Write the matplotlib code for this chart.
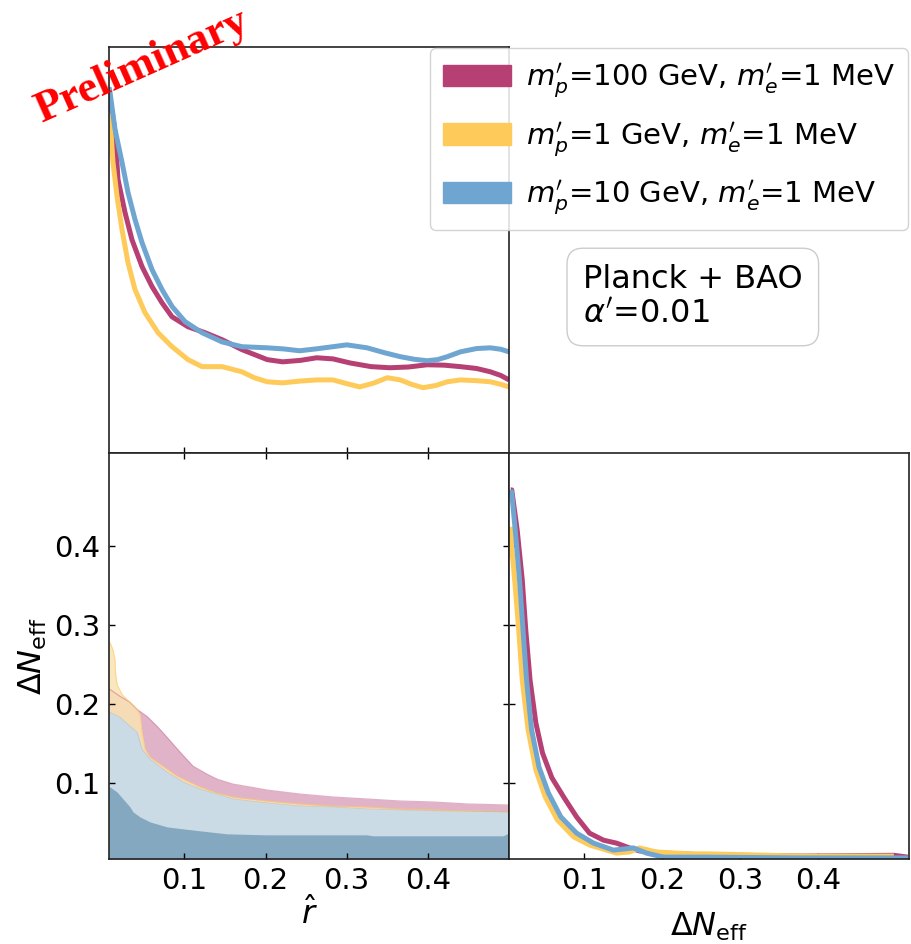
import matplotlib
matplotlib.use('Agg')
import matplotlib.pyplot as plt
from matplotlib.patches import Patch

# ---- data ----
labels = [r"$m^{\prime}_{p}$=100 GeV, $m^{\prime}_{e}$=1 MeV",
          r"$m^{\prime}_{p}$=1 GeV, $m^{\prime}_{e}$=1 MeV",
          r"$m^{\prime}_{p}$=10 GeV, $m^{\prime}_{e}$=1 MeV"]
line_colors = ['#B64073', '#FECB5A', '#6FA6D1']

rhat_lim = (0.007, 0.5)
dneff_lim = (0.004, 0.517)
ticks = [0.1, 0.2, 0.3, 0.4]

# 1D marginal of r-hat (top left)
r_mag_x = [0.007, 0.0144, 0.0181, 0.0267, 0.0353, 0.0477, 0.060, 0.0723, 0.0847, 0.1044,
           0.1253, 0.1463, 0.1709, 0.202, 0.221, 0.243, 0.263, 0.283, 0.304, 0.330,
           0.353, 0.376, 0.399, 0.420, 0.440, 0.460, 0.477, 0.490, 0.500]
r_mag_y = [0.980, 0.870, 0.741, 0.652, 0.578, 0.505, 0.451, 0.407, 0.369, 0.342,
           0.326, 0.307, 0.280, 0.253, 0.247, 0.251, 0.258, 0.255, 0.244, 0.234,
           0.231, 0.233, 0.239, 0.238, 0.234, 0.229, 0.220, 0.210, 0.198]
r_yel_x = [0.007, 0.0082, 0.0119, 0.0169, 0.023, 0.0304, 0.039, 0.0514, 0.0674, 0.0847,
           0.1044, 0.1216, 0.1463, 0.1709, 0.186, 0.202, 0.221, 0.243, 0.263, 0.283,
           0.300, 0.316, 0.334, 0.350, 0.366, 0.380, 0.394, 0.410, 0.424, 0.440,
           0.460, 0.477, 0.490, 0.500]
r_yel_y = [0.918, 0.913, 0.788, 0.695, 0.606, 0.516, 0.443, 0.380, 0.326, 0.288,
           0.253, 0.234, 0.234, 0.220, 0.204, 0.193, 0.190, 0.195, 0.198, 0.198,
           0.188, 0.179, 0.190, 0.204, 0.198, 0.186, 0.177, 0.183, 0.193, 0.198,
           0.196, 0.193, 0.186, 0.179]
r_blu_x = [0.007, 0.0082, 0.0144, 0.023, 0.0304, 0.039, 0.0477, 0.060, 0.0723, 0.0847,
           0.1007, 0.1216, 0.1463, 0.1709, 0.202, 0.222, 0.242, 0.262, 0.283, 0.300,
           0.325, 0.346, 0.366, 0.383, 0.399, 0.412, 0.424, 0.440, 0.460, 0.477,
           0.490, 0.500]
r_blu_y = [0.991, 0.978, 0.877, 0.788, 0.706, 0.633, 0.570, 0.497, 0.443, 0.397,
           0.356, 0.326, 0.301, 0.288, 0.285, 0.282, 0.277, 0.282, 0.288, 0.293,
           0.285, 0.272, 0.261, 0.254, 0.250, 0.253, 0.261, 0.274, 0.283, 0.285,
           0.281, 0.274]

# 1D marginal of Delta N_eff (bottom right)
n_mag_x = [0.0062, 0.0075, 0.0145, 0.0210, 0.0255, 0.0310, 0.0385, 0.0470, 0.0590, 0.0750,
           0.0907, 0.1073, 0.1252, 0.1419, 0.1585, 0.1713, 0.202, 0.257, 0.3786, 0.4976,
           0.5155]
n_mag_y = [1.0, 1.0, 0.891, 0.756, 0.620, 0.485, 0.368, 0.287, 0.220, 0.165,
           0.114, 0.070, 0.051, 0.043, 0.030, 0.022, 0.016, 0.011, 0.008, 0.010,
           0.005]
n_yel_x = [0.0062, 0.0075, 0.0113, 0.0165, 0.0210, 0.0285, 0.0385, 0.0505, 0.0660, 0.0869,
           0.1073, 0.1419, 0.1585, 0.1713, 0.193, 0.2353, 0.257, 0.3786, 0.4976]
n_yel_y = [0.90, 0.845, 0.756, 0.620, 0.485, 0.350, 0.241, 0.168, 0.106, 0.060,
           0.038, 0.016, 0.019, 0.030, 0.019, 0.014, 0.014, 0.008, 0.008]
n_blu_x = [0.0062, 0.0075, 0.0120, 0.0175, 0.0220, 0.0265, 0.0330, 0.0425, 0.0545, 0.0705,
           0.0907, 0.1124, 0.138, 0.1636, 0.1803, 0.202, 0.257, 0.3786, 0.5155]
n_blu_y = [1.0, 0.992, 0.891, 0.756, 0.620, 0.485, 0.350, 0.249, 0.179, 0.114,
           0.070, 0.043, 0.024, 0.030, 0.016, 0.005, 0.005, 0.003, 0.003]

# 2D contours: upper edges of the filled regions (bottom left)
c_mag_x = [0.007, 0.0082, 0.0206, 0.0329, 0.0415, 0.0538, 0.0662, 0.0785, 0.0945, 0.1105,
           0.1278, 0.1401, 0.1598, 0.1808, 0.2017, 0.2424, 0.2831, 0.3250, 0.3657, 0.4064,
           0.4483, 0.4976, 0.5]
c_mag_y = [0.2183, 0.2183, 0.2095, 0.2020, 0.1932, 0.1843, 0.1718, 0.1579, 0.1392, 0.1214,
           0.1113, 0.1050, 0.0987, 0.0950, 0.0912, 0.0861, 0.0824, 0.0799, 0.0773, 0.0761,
           0.0736, 0.0723, 0.0723]
c_yel_x = [0.007, 0.0082, 0.0119, 0.0144, 0.0150, 0.0169, 0.0230, 0.0329, 0.0415, 0.0452,
           0.0477, 0.0514, 0.0575, 0.0662, 0.0785, 0.0908, 0.1192, 0.1401, 0.1598, 0.2017,
           0.2424, 0.2831, 0.3250, 0.3657, 0.4064, 0.4643, 0.4976, 0.5]
c_yel_y = [0.2775, 0.2775, 0.2687, 0.2561, 0.2397, 0.2246, 0.2120, 0.2020, 0.1932, 0.1869,
           0.1642, 0.1428, 0.1327, 0.1264, 0.1176, 0.1088, 0.0950, 0.0874, 0.0824, 0.0773,
           0.0736, 0.0710, 0.0698, 0.0673, 0.0660, 0.0648, 0.0635, 0.0635]
c_blu95_x = [0.007, 0.0082, 0.0206, 0.0329, 0.0415, 0.0452, 0.0477, 0.0575, 0.0785, 0.0982,
             0.1192, 0.1401, 0.1598, 0.2017, 0.2424, 0.2831, 0.3250, 0.3657, 0.4064, 0.4976,
             0.5]
c_blu95_y = [0.1894, 0.1894, 0.1831, 0.1718, 0.1642, 0.1516, 0.1428, 0.1302, 0.1138, 0.1013,
             0.0924, 0.0861, 0.0799, 0.0748, 0.0710, 0.0698, 0.0673, 0.0660, 0.0648, 0.0635,
             0.0635]
c_blu68_x = [0.007, 0.0082, 0.0169, 0.0243, 0.0329, 0.0366, 0.0452, 0.0575, 0.0785, 0.0982,
             0.1192, 0.1524, 0.2017, 0.3250, 0.3324, 0.4927, 0.4976, 0.5]
c_blu68_y = [0.0950, 0.0950, 0.0887, 0.0799, 0.0698, 0.0635, 0.0572, 0.0509, 0.0446, 0.0421,
             0.0396, 0.0358, 0.0345, 0.0345, 0.0333, 0.0333, 0.0358, 0.0358]

fill_mag = '#E1B3C9'
fill_yel = '#FAE3B4'
fill_blu95 = '#C4DCEE'
fill_blu68 = '#77A0B9'

fontsize = 21
label_size = 23
fig_w, fig_h = 9.11, 9.44

plt.rcParams['font.family'] = ['DejaVu Sans']
plt.rcParams['mathtext.fontset'] = 'dejavusans'

fig = plt.figure(figsize=(fig_w, fig_h), dpi=100)
left, bottom = 109 / 911, 1 - 859 / 944
w, h = 400 / 911, 406 / 944
ax_r = fig.add_axes([left, bottom + h, w, h])
ax_2d = fig.add_axes([left, bottom, w, h])
ax_n = fig.add_axes([left + w, bottom, w, h])

for ax in (ax_r, ax_2d, ax_n):
    for s in ax.spines.values():
        s.set_linewidth(1.2)
        s.set_color('#222222')
    ax.tick_params(direction='in', length=4, width=1, labelsize=fontsize, pad=6)

lw = 3.6
# top left
for xs, ys, c in zip([r_mag_x, r_yel_x, r_blu_x], [r_mag_y, r_yel_y, r_blu_y], line_colors):
    ax_r.plot(xs, ys, color=c, lw=lw, solid_capstyle='butt', solid_joinstyle='round')
ax_r.set_xlim(*rhat_lim)
ax_r.set_ylim(0, 1.1)
ax_r.set_xticks(ticks)
ax_r.set_yticks([])
ax_r.tick_params(labelbottom=False)

# bottom left, 2D
y0 = dneff_lim[0]
ax_2d.fill_between(c_mag_x, y0, c_mag_y, color=fill_mag, lw=0)
ax_2d.plot(c_mag_x, c_mag_y, color=line_colors[0], lw=0.8, alpha=0.4)
ax_2d.fill_between(c_yel_x, y0, c_yel_y, color=fill_yel, alpha=0.85, lw=0)
ax_2d.plot(c_yel_x, c_yel_y, color=line_colors[1], lw=0.8, alpha=0.6)
ax_2d.fill_between(c_blu95_x, y0, c_blu95_y, color=fill_blu95, alpha=0.85, lw=0)
ax_2d.plot(c_blu95_x, c_blu95_y, color=line_colors[2], lw=0.6, alpha=0.3)
ax_2d.fill_between(c_blu68_x, y0, c_blu68_y, color=fill_blu68, alpha=0.85, lw=0)
ax_2d.set_xlim(*rhat_lim)
ax_2d.set_ylim(*dneff_lim)
ax_2d.set_xticks(ticks)
ax_2d.set_yticks(ticks)
ax_2d.tick_params(top=True, right=True)
ax_2d.set_xlabel(r"$\hat{r}$", fontsize=label_size, labelpad=1)
ax_2d.set_ylabel(r"$\Delta N_{\rm eff}$", fontsize=label_size, labelpad=4)

# bottom right
for xs, ys, c in zip([n_mag_x, n_yel_x, n_blu_x], [n_mag_y, n_yel_y, n_blu_y], line_colors):
    ax_n.plot(xs, ys, color=c, lw=lw, solid_capstyle='butt', solid_joinstyle='round')
ax_n.set_xlim(*dneff_lim)
ax_n.set_ylim(0, 1.1)
ax_n.set_xticks(ticks)
# left ticks line up with the Delta N_eff ticks of the 2D panel
span = dneff_lim[1] - dneff_lim[0]
ax_n.set_yticks([(t - dneff_lim[0]) / span * 1.1 for t in ticks])
ax_n.tick_params(labelleft=False)
ax_n.set_xlabel(r"$\Delta N_{\rm eff}$", fontsize=label_size, labelpad=11)

handles = [Patch(facecolor=c, edgecolor=c) for c in line_colors]
fig.legend(handles, labels, loc='upper right', bbox_to_anchor=(908 / 911, 1 - 48 / 944),
           borderaxespad=0, fontsize=21, handlelength=2.35, handleheight=0.75,
           handletextpad=0.5, labelspacing=0.68, borderpad=0.45, fancybox=True,
           framealpha=0.85)

fig.text(583 / 911, 1 - 297 / 944, "Planck + BAO\n" + r"$\alpha^{\prime}$=0.01",
         fontsize=23, ha='left', va='center', linespacing=1.15,
         bbox=dict(boxstyle='round,pad=0.5', fc='white', ec='#cccccc'))

fig.text(42 / 911, 1 - 123 / 944, "Preliminary", color='red', fontsize=32,
         fontweight='bold', family='Liberation Serif', rotation=24,
         rotation_mode='anchor', ha='left', va='baseline')

fig.savefig('out.png', dpi=100)
